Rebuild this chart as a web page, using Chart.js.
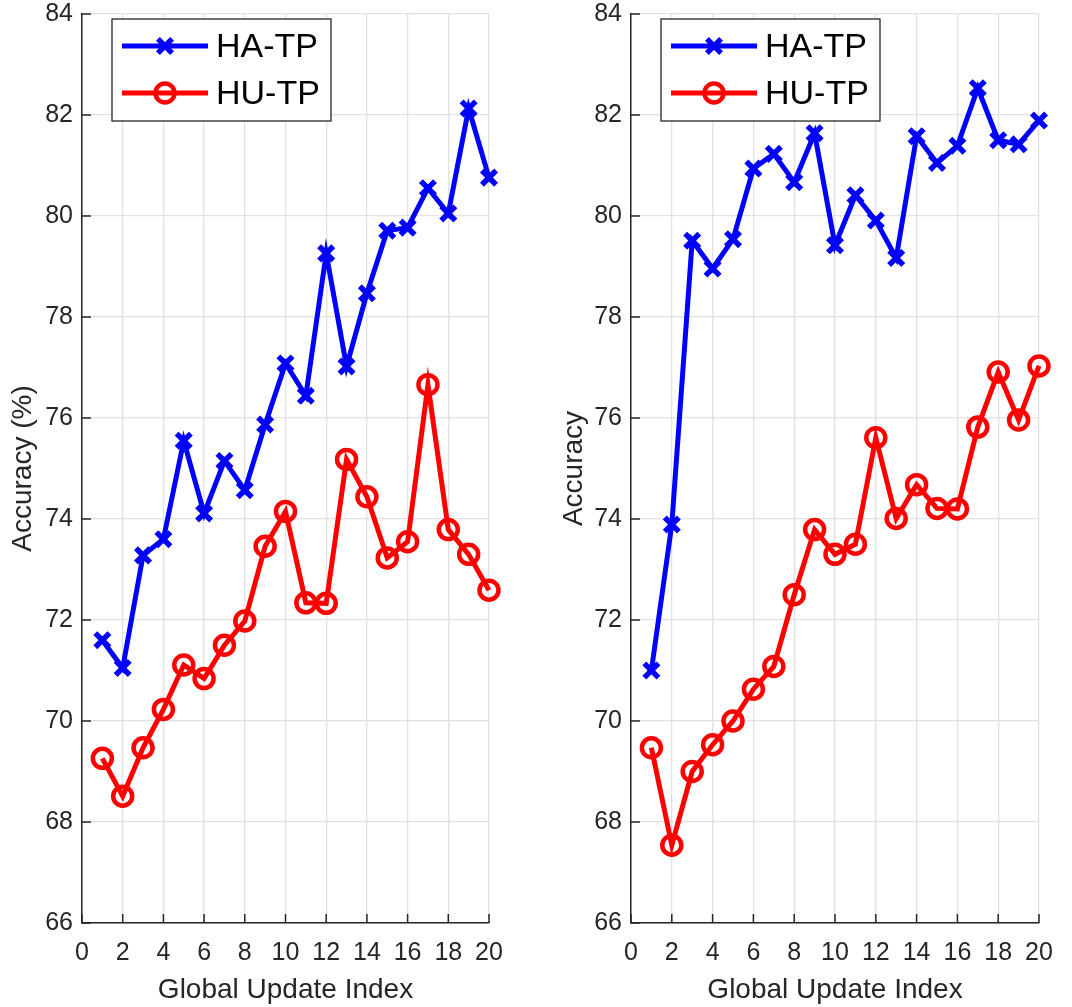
<!DOCTYPE html>
<html>
<head>
<meta charset="utf-8">
<script src="https://cdn.jsdelivr.net/npm/chart.js@4/dist/chart.umd.min.js"></script>
<style>
  body { margin: 0; background: #fff; }
  #wrap { display: flex; width: 1072px; height: 1007px; }
  canvas { display: block; }
</style>
</head>
<body>
<div id="wrap">
  <canvas id="leftChart" width="536" height="1007"></canvas>
  <canvas id="rightChart" width="536" height="1007"></canvas>
</div>
<script>
// data
var update_index = [1, 2, 3, 4, 5, 6, 7, 8, 9, 10, 11, 12, 13, 14, 15, 16, 17, 18, 19, 20];
var series_names = ['HA-TP', 'HU-TP'];

var left_ha = [71.60, 71.05, 73.28, 73.60, 75.55, 74.11, 75.15, 74.57, 75.87, 77.08,
               76.44, 79.26, 77.02, 78.47, 79.71, 79.77, 80.55, 80.05, 82.13, 80.76];
var left_hu = [69.26, 68.51, 69.47, 70.23, 71.11, 70.84, 71.50, 71.98, 73.46, 74.15,
               72.34, 72.33, 75.18, 74.44, 73.23, 73.55, 76.66, 73.79, 73.30, 72.59];

var right_ha = [71.00, 73.89, 79.51, 78.96, 79.54, 80.94, 81.23, 80.67, 81.64, 79.42,
                80.41, 79.91, 79.17, 81.58, 81.05, 81.39, 82.53, 81.50, 81.42, 81.89];
var right_hu = [69.47, 67.54, 69.00, 69.53, 70.00, 70.63, 71.08, 72.50, 73.79, 73.30,
                73.50, 75.61, 74.01, 74.68, 74.21, 74.20, 75.82, 76.91, 75.96, 77.03];

var x_min = 0, x_max = 20, x_step = 2;
var y_min = 66, y_max = 84, y_step = 2;

var x_title = 'Global Update Index';
var left_y_title = 'Accuracy (%)';
var right_y_title = 'Accuracy';

var FONT = "'Liberation Sans', Arial, Helvetica, sans-serif";
var AXIS_COLOR = '#262626';
var GRID_COLOR = '#e2e2e2';

function toPoints(values) {
  return update_index.map(function (x, i) { return { x: x, y: values[i] }; });
}

// MATLAB style ticks pointing into the plot
var innerTicks = {
  id: 'innerTicks',
  beforeDatasetsDraw: function (chart) {
    var ctx = chart.ctx;
    var area = chart.chartArea;
    var xs = chart.scales.x, ys = chart.scales.y;
    ctx.save();
    ctx.strokeStyle = AXIS_COLOR;
    ctx.lineWidth = 1.5;
    ctx.beginPath();
    for (var v = x_min; v <= x_max; v += x_step) {
      var px = xs.getPixelForValue(v);
      ctx.moveTo(px, area.bottom);
      ctx.lineTo(px, area.bottom - 9);
    }
    for (var w = y_min; w <= y_max; w += y_step) {
      var py = ys.getPixelForValue(w);
      ctx.moveTo(area.left, py);
      ctx.lineTo(area.left + 9, py);
    }
    ctx.stroke();
    ctx.restore();
  }
};

function drawMarker(ctx, ds, x, y) {
  ctx.save();
  ctx.strokeStyle = ds.borderColor;
  ctx.lineWidth = ds.pointBorderWidth;
  ctx.beginPath();
  if (ds.pointStyle == 'circle') {
    ctx.arc(x, y, ds.pointRadius, 0, Math.PI * 2);
  } else {
    var d = ds.pointRadius * Math.SQRT1_2;
    ctx.moveTo(x - d, y - d); ctx.lineTo(x + d, y + d);
    ctx.moveTo(x - d, y + d); ctx.lineTo(x + d, y - d);
  }
  ctx.stroke();
  ctx.restore();
}

// boxed legend sitting inside the top-left corner of the axes
var boxLegend = {
  id: 'boxLegend',
  afterDatasetsDraw: function (chart) {
    var ctx = chart.ctx;
    var area = chart.chartArea;
    var bx = area.left + 30, by = area.top + 5;
    ctx.save();
    ctx.fillStyle = '#fff';
    ctx.fillRect(bx, by, 219, 102);
    ctx.strokeStyle = AXIS_COLOR;
    ctx.lineWidth = 1.3;
    ctx.strokeRect(bx, by, 219, 102);
    chart.data.datasets.forEach(function (ds, i) {
      var cy = by + 27 + i * 47;
      ctx.strokeStyle = ds.borderColor;
      ctx.lineWidth = ds.borderWidth;
      ctx.beginPath();
      ctx.moveTo(bx + 10, cy);
      ctx.lineTo(bx + 96, cy);
      ctx.stroke();
      drawMarker(ctx, ds, bx + 53, cy);
      ctx.fillStyle = '#000';
      ctx.font = '34px ' + FONT;
      ctx.textBaseline = 'middle';
      ctx.textAlign = 'left';
      ctx.fillText(ds.label, bx + 104, cy + 2);
    });
    ctx.restore();
  }
};

function makeChart(canvas, ha, hu, yTitle, yWidth, titlePad, padRight) {
  var config = {
    type: 'line',
    data: {
      datasets: [{
        label: series_names[0],
        data: toPoints(ha),
        borderColor: '#0000ff',
        borderWidth: 5,
        pointStyle: 'crossRot',
        pointRadius: 10,
        pointBorderWidth: 5.5,
        pointBorderColor: '#0000ff',
        pointBackgroundColor: '#0000ff',
        tension: 0,
        clip: false
      }, {
        label: series_names[1],
        data: toPoints(hu),
        borderColor: '#ff0000',
        borderWidth: 5,
        pointStyle: 'circle',
        pointRadius: 9.5,
        pointBorderWidth: 4.5,
        pointBorderColor: '#ff0000',
        pointBackgroundColor: 'rgba(255,255,255,0)',
        tension: 0,
        clip: false
      }]
    },
    options: {
      responsive: false,
      animation: false,
      events: [],
      layout: { autoPadding: false, padding: { top: 14, right: padRight, left: 0, bottom: 0 } },
      plugins: {
        legend: { display: false },
        tooltip: { enabled: false }
      },
      scales: {
        x: {
          type: 'linear',
          min: x_min,
          max: x_max,
          afterFit: function (scale) {
            scale.height = 84;
            scale.paddingLeft = 0;
            scale.paddingRight = 0;
          },
          ticks: {
            stepSize: x_step,
            maxRotation: 0,
            autoSkip: false,
            padding: 18,
            color: AXIS_COLOR,
            font: { family: FONT, size: 25, lineHeight: 1 }
          },
          grid: { color: GRID_COLOR, lineWidth: 1.3, drawTicks: false },
          border: { display: true, color: AXIS_COLOR, width: 1.5 },
          title: {
            display: true,
            text: x_title,
            color: AXIS_COLOR,
            padding: { top: 2, bottom: 0 },
            font: { family: FONT, size: 28 }
          }
        },
        y: {
          min: y_min,
          max: y_max,
          afterFit: function (scale) {
            scale.width = yWidth;
            scale.paddingTop = 0;
            scale.paddingBottom = 0;
          },
          ticks: {
            stepSize: y_step,
            padding: 9,
            color: AXIS_COLOR,
            font: { family: FONT, size: 25, lineHeight: 1 }
          },
          grid: { color: GRID_COLOR, lineWidth: 1.3, drawTicks: false },
          border: { display: true, color: AXIS_COLOR, width: 1.5 },
          title: {
            display: true,
            text: yTitle,
            color: AXIS_COLOR,
            padding: { top: titlePad, bottom: 0 },
            font: { family: FONT, size: 28 }
          }
        }
      }
    },
    plugins: [innerTicks, boxLegend]
  };
  return new Chart(canvas, config);
}

var leftChart = makeChart(document.getElementById('leftChart'), left_ha, left_hu, left_y_title, 82, 6, 47);
var rightChart = makeChart(document.getElementById('rightChart'), right_ha, right_hu, right_y_title, 95, 21, 33);
</script>
</body>
</html>
